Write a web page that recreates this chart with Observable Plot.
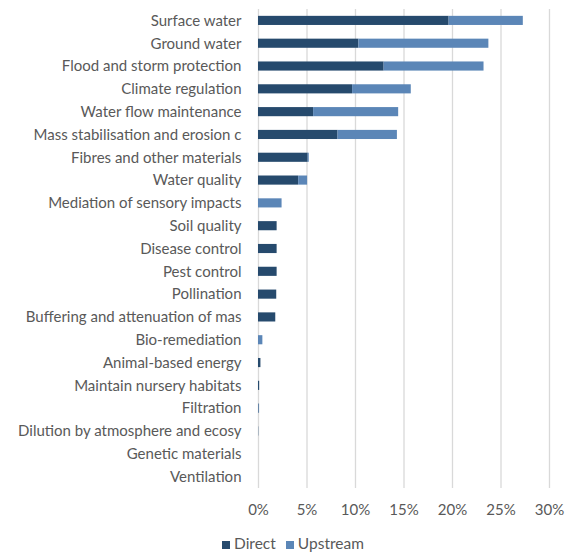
<!DOCTYPE html>
<html>
<head>
<meta charset="utf-8">
<script src="https://cdn.jsdelivr.net/npm/d3@7"></script>
<script src="https://cdn.jsdelivr.net/npm/@observablehq/plot@0.6"></script>
<style>
  body { margin: 0; background: #fff; font-family: Lato, sans-serif; }
  #chart { width: 566px; }
  .legend { display: flex; gap: 10px; margin-left: 222px; margin-top: 11px; font-size: 15.5px; line-height: 18px; height: 18px; color: #595959; align-items: center; }
  .legend span.sw { display: inline-block; width: 8px; height: 8px; margin-right: 4px; }
</style>
</head>
<body>
<div id="chart"></div>
<script>
const categories = [
  "Surface water", "Ground water", "Flood and storm protection", "Climate regulation",
  "Water flow maintenance", "Mass stabilisation and erosion c", "Fibres and other materials",
  "Water quality", "Mediation of sensory impacts", "Soil quality", "Disease control",
  "Pest control", "Pollination", "Buffering and attenuation of mas", "Bio-remediation",
  "Animal-based energy", "Maintain nursery habitats", "Filtration",
  "Dilution by atmosphere and ecosy", "Genetic materials", "Ventilation"
];
const direct   = [19.65, 10.35, 12.95, 9.7, 5.68, 8.2, 5.12, 4.14, 0, 1.92, 1.92, 1.92, 1.88, 1.78, 0, 0.25, 0.12, 0.06, 0.02, 0, 0];
const upstream = [7.65, 13.4, 10.3, 6.05, 8.77, 6.12, 0.11, 0.92, 2.43, 0, 0, 0, 0, 0, 0.45, 0, 0, 0.05, 0.01, 0, 0];
const series = ["Direct", "Upstream"];
const colors = ["#264a6d", "#5b86b7"];
const xTicks = [0, 5, 10, 15, 20, 25, 30];

const data = [];
categories.forEach((c, i) => {
  data.push({category: c, series: "Direct", value: direct[i] / 100});
  data.push({category: c, series: "Upstream", value: upstream[i] / 100});
});

const fmt = d => Math.round(d * 100) + "%";
const plot = Plot.plot({
  width: 566,
  height: 523,
  marginLeft: 258,
  marginRight: 17,
  marginTop: 9,
  marginBottom: 35,
  style: {fontFamily: "Lato, sans-serif", fontSize: "15px", color: "#595959", background: "#fff"},
  x: {domain: [0, 0.30], ticks: xTicks.map(d => d / 100), tickFormat: fmt, label: null},
  y: {domain: categories, paddingInner: 0.6, paddingOuter: 0.3, round: false, label: null},
  color: {domain: series, range: colors},
  marks: [
    Plot.gridX(xTicks.map(d => d / 100), {stroke: "#d9d9d9", strokeOpacity: 1, strokeWidth: 1.3}),
    Plot.barX(data, {x: "value", y: "category", fill: "series"}),
    Plot.axisX({ticks: xTicks.map(d => d / 100), tickFormat: fmt, tickSize: 0, tickPadding: 16, fill: "#595959", label: null}),
    Plot.axisY({tickSize: 0, tickPadding: 17, fill: "#595959", label: null})
  ]
});
document.getElementById("chart").appendChild(plot);

const legend = document.createElement("div");
legend.className = "legend";
series.forEach((s, i) => {
  const item = document.createElement("span");
  item.innerHTML = `<span class="sw" style="background:${colors[i]}"></span>${s}`;
  legend.appendChild(item);
});
document.getElementById("chart").appendChild(legend);
</script>
</body>
</html>
